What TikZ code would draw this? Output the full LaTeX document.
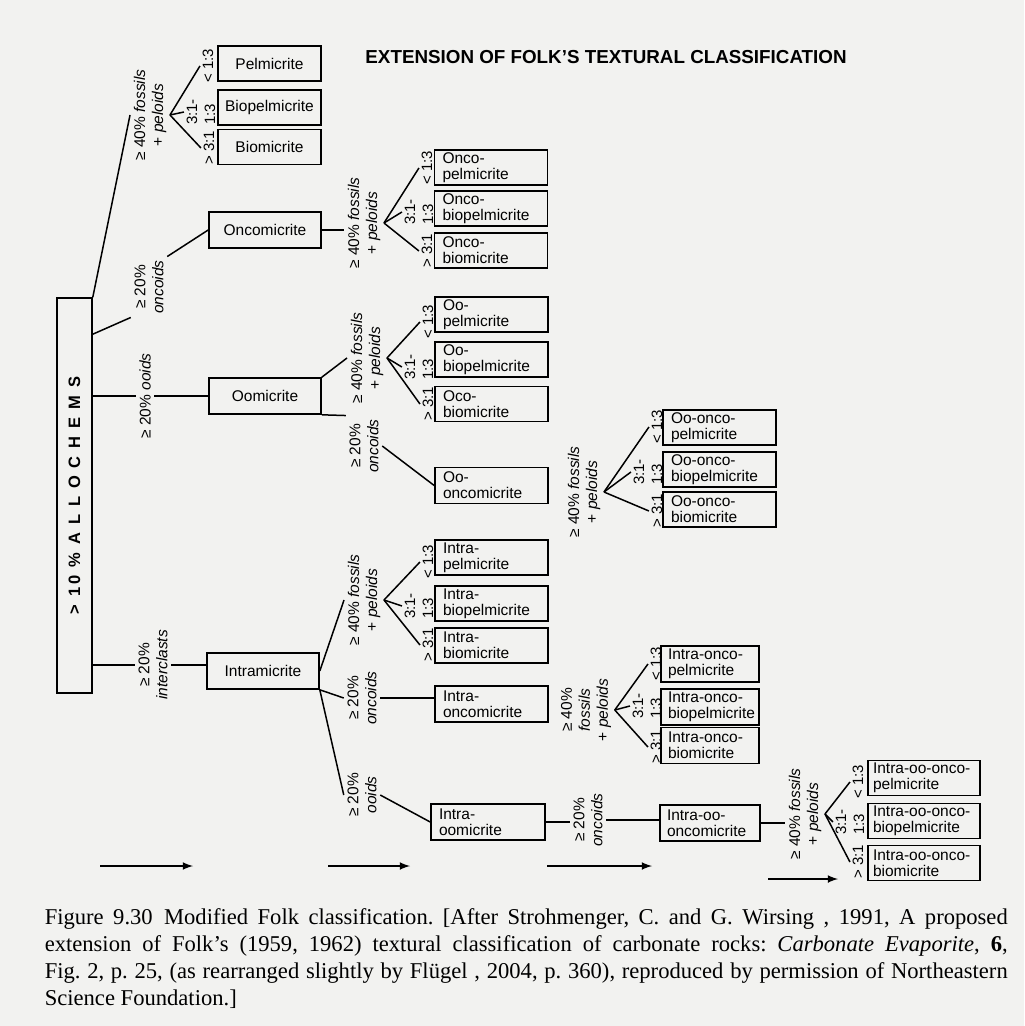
\documentclass[tikz,border=0pt]{standalone}
\usepackage{fontspec}
\setmainfont{Liberation Sans}
\newfontfamily\capfont{Liberation Serif}
\newfontfamily\spacedfont[LetterSpace=20]{Liberation Sans}
\definecolor{paper}{RGB}{242,242,240}

\begin{document}
\begin{tikzpicture}[x=0.5pt, y=-0.5pt, line width=0.75pt, >=latex]
	% Setup the styles for the boxes and the turned labels
	\tikzset{rock/.style={draw, line width=0.8pt, inner sep=0pt,
			minimum height=17.5pt, font=\fontsize{7.75}{8}\selectfont},
		rock one/.style={rock, minimum width=#1},
		rock two/.style={rock, text width=#1, inner xsep=4pt, align=left},
		turned/.style={rotate=90, inner sep=1.5pt, align=center,
			font=\fontsize{7.75}{9}\selectfont},
		ratio/.style={rotate=90, inner sep=1pt, align=left,
			font=\fontsize{7.5}{9}\selectfont}}
	
	\useasboundingbox (0,0) rectangle (1024,1026);
	\fill[paper] (0,0) rectangle (1024,1026);
	
	\node[font=\bfseries\fontsize{9.4}{11}\selectfont] (title) at (606,57)
	{EXTENSION OF FOLK’S TEXTURAL CLASSIFICATION};
	
	\node[draw, line width=0.8pt, inner sep=0pt, minimum width=17.5pt,
	minimum height=197.5pt] (allo) at (74.5,495.5)
	{\rotatebox{90}{\spacedfont\bfseries\fontsize{8.25}{10}\selectfont > 10 \% A L L O C H E M S}};
	
	% first level
	\node[turned] (fp1) at (150,115) {≥ 40\% \textit{fossils}\\+ \textit{peloids}};
	\node[turned] (on1) at (149,287) {≥ 20\%\\\textit{oncoids}};
	\node[turned] (oo1) at (145,396) {≥ 20\% \textit{ooids}};
	\node[turned] (ic1) at (153,665) {≥ 20\%\\\textit{interclasts}};
	
	\node[rock one=51.5pt] (pel)    at (269.5,63.5)  {Pelmicrite};
	\node[rock one=51.5pt] (biopel) at (269.5,107.5) {Biopelmicrite};
	\node[rock one=51.5pt] (bio)    at (269.5,147)   {Biomicrite};
	\node[ratio] (lt1)  at (208,66)  {< 1:3};
	\node[ratio] (mid1) at (201,112) {3:1-\\1:3};
	\node[ratio] (gt1)  at (209,148) {> 3:1};
	
	\node[rock one=56pt, minimum height=18pt] (oncm)  at (265,230) {Oncomicrite};
	\node[rock one=56pt, minimum height=18pt] (oomc)  at (265,396) {Oomicrite};
	\node[rock one=56pt, minimum height=18pt] (intra) at (263,671) {Intramicrite};
	
	% onco
	\node[turned] (fp2) at (364,223) {≥ 40\% \textit{fossils}\\+ \textit{peloids}};
	\node[ratio] (lt2)  at (427,168) {< 1:3};
	\node[ratio] (mid2) at (419,212) {3:1-\\1:3};
	\node[ratio] (gt2)  at (427,251) {> 3:1};
	\node[rock two=48.5pt] (op1) at (491,167.5) {Onco-\\pelmicrite};
	\node[rock two=48.5pt] (op2) at (491,208.5) {Onco-\\biopelmicrite};
	\node[rock two=48.5pt] (op3) at (491,250.5) {Onco-\\biomicrite};
	
	% oo
	\node[turned] (fp3) at (367,358) {≥ 40\% \textit{fossils}\\+ \textit{peloids}};
	\node[ratio] (lt3)  at (428,322) {< 1:3};
	\node[ratio] (mid3) at (419,367) {3:1-\\1:3};
	\node[ratio] (gt3)  at (428,404) {> 3:1};
	\node[rock two=48.5pt] (oop1) at (491.5,314.5) {Oo-\\pelmicrite};
	\node[rock two=48.5pt] (oop2) at (491.5,359.5) {Oo-\\biopelmicrite};
	\node[rock two=48.5pt] (oop3) at (491.5,404)   {Oco-\\biomicrite};
	
	\node[turned] (on3) at (364,446) {≥ 20\%\\\textit{oncoids}};
	\node[rock two=48.5pt, minimum height=18pt] (oonc) at (491.5,485.5) {Oo-\\oncomicrite};
	
	\node[turned] (fp4) at (584,492) {≥ 40\% \textit{fossils}\\+ \textit{peloids}};
	\node[ratio] (lt4)  at (657,427) {< 1:3};
	\node[ratio] (mid4) at (648,472) {3:1-\\1:3};
	\node[ratio] (gt4)  at (657,511) {> 3:1};
	\node[rock two=48.5pt] (ooc1) at (719.5,427.5) {Oo-onco-\\pelmicrite};
	\node[rock two=48.5pt] (ooc2) at (719.5,469.5) {Oo-onco-\\biopelmicrite};
	\node[rock two=48.5pt] (ooc3) at (719.5,509.5) {Oo-onco-\\biomicrite};
	
	% intra
	\node[turned] (fp5) at (364,600) {≥ 40\% \textit{fossils}\\+ \textit{peloids}};
	\node[ratio] (lt5)  at (428,562) {< 1:3};
	\node[ratio] (mid5) at (419,606) {3:1-\\1:3};
	\node[ratio] (gt5)  at (428,645) {> 3:1};
	\node[rock two=48.5pt] (ip1) at (491.5,557.5) {Intra-\\pelmicrite};
	\node[rock two=48.5pt] (ip2) at (491.5,603.5) {Intra-\\biopelmicrite};
	\node[rock two=48.5pt] (ip3) at (491.5,645.5) {Intra-\\biomicrite};
	
	\node[turned] (on5) at (362,698) {≥ 20\%\\\textit{oncoids}};
	\node[rock two=48.5pt, minimum height=18pt] (ionc) at (491.5,704) {Intra-\\oncomicrite};
	
	\node[turned] (fp6) at (586,710) {≥ 40\%\\\textit{fossils}\\+ \textit{peloids}};
	\node[ratio] (lt6)  at (656,664) {< 1:3};
	\node[ratio] (mid6) at (647,706) {3:1-\\1:3};
	\node[ratio] (gt6)  at (656,747) {> 3:1};
	\node[rock two=42pt, inner xsep=3.5pt, minimum height=18pt] (ic1b) at (710,664) {Intra-onco-\\pelmicrite};
	\node[rock two=42pt, inner xsep=3.5pt, minimum height=18pt] (ic2b) at (710,707) {Intra-onco-\\biopelmicrite};
	\node[rock two=42pt, inner xsep=3.5pt, minimum height=18pt] (ic3b) at (710,745.5) {Intra-onco-\\biomicrite};
	
	\node[turned] (oo5) at (362,795) {≥ 20\%\\\textit{ooids}};
	\node[rock two=49pt, minimum height=18pt] (ioom) at (488,822) {Intra-\\oomicrite};
	
	\node[turned] (on7) at (588,820) {≥ 20\%\\\textit{oncoids}};
	\node[rock two=43pt, inner xsep=3.5pt, minimum height=18pt] (ioonc) at (710,823) {Intra-oo-\\oncomicrite};
	
	\node[turned] (fp7) at (805,814) {≥ 40\% \textit{fossils}\\+ \textit{peloids}};
	\node[ratio] (lt7)  at (858,782) {< 1:3};
	\node[ratio] (mid7) at (850,822) {3:1-\\1:3};
	\node[ratio] (gt7)  at (858,862) {> 3:1};
	\node[rock two=51pt, inner xsep=2.5pt] (ioo1) at (924,778) {Intra-oo-onco-\\pelmicrite};
	\node[rock two=51pt, inner xsep=2.5pt] (ioo2) at (924,821) {Intra-oo-onco-\\biopelmicrite};
	\node[rock two=51pt, inner xsep=2.5pt] (ioo3) at (924,863) {Intra-oo-onco-\\biomicrite};
	
	% connecting lines
	\draw (allo.north east) -- (fp1.north);
	\draw ([yshift=-18.5pt]allo.north east) -- (on1.north west);
	\draw (on1.south east) -- (oncm.west);
	\draw (allo.east |- oo1.center) -- (oo1.north);
	\draw (oo1.south) -- (oomc.west);
	\draw (allo.east |- ic1.center) -- (ic1.north);
	\draw (ic1.south) -- (ic1.south -| intra.west);
	
	\draw (oncm.east) -- (oncm.east -| fp2.north);
	\draw (oomc.north east) -- (fp3.north);
	\draw (oomc.south east) -- (on3.north east);
	\draw (on3.south) -- (oonc.west);
	\draw (intra.east) -- (fp5.north);
	\draw (intra.south east) -- (on5.north);
	\draw (on5.south) -- (on5.south -| ionc.west);
	\draw (intra.south east) -- (oo5.north);
	\draw (oo5.south) -- (ioom.west);
	\draw (ioom.east) -- (ioom.east -| on7.north);
	\draw (on7.south) -- (on7.south -| ioonc.west);
	\draw (ioonc.east) -- (ioonc.east -| fp7.north);
	
	\draw (fp1.south) edge (lt1.north) edge (mid1.north) edge (gt1.north);
	\draw (fp2.south) edge (lt2.north) edge (mid2.north) edge (gt2.north);
	\draw (fp3.south) edge (lt3.north) edge (mid3.north) edge (gt3.north);
	\draw (fp4.south) edge (lt4.north) edge (mid4.north) edge (gt4.north);
	\draw (fp5.south) edge (lt5.north) edge (mid5.north) edge (gt5.north);
	\draw (fp6.south) edge (lt6.north) edge (mid6.north) edge (gt6.north);
	\draw (fp7.south) edge (lt7.north) edge (mid7.north) edge (gt7.north);
	
	% arrows along the bottom
	\draw[->] (100,866) -- (193,866);
	\draw[->] (328,866) -- (410,866);
	\draw[->] (547,866) -- (652,866);
	\draw[->] (768,879) -- (838,879);
	
	\node[anchor=north west, inner sep=0pt, text width=481.5pt, align=justify,
	font=\capfont\fontsize{11.3}{13.5}\selectfont\frenchspacing] (caption) at (44,908)
	{Figure 9.30\enspace Modified Folk classification. [After Strohmenger, C. and G. Wirsing , 1991, A proposed\linebreak
		extension of Folk’s (1959, 1962) textural classification of carbonate rocks: \textit{Carbonate Evaporite}, \textbf{6},\linebreak
		Fig. 2, p. 25, (as rearranged slightly by Flügel , 2004, p. 360), reproduced by permission of Northeastern\linebreak
		Science Foundation.]};
	
\end{tikzpicture}
\end{document}
